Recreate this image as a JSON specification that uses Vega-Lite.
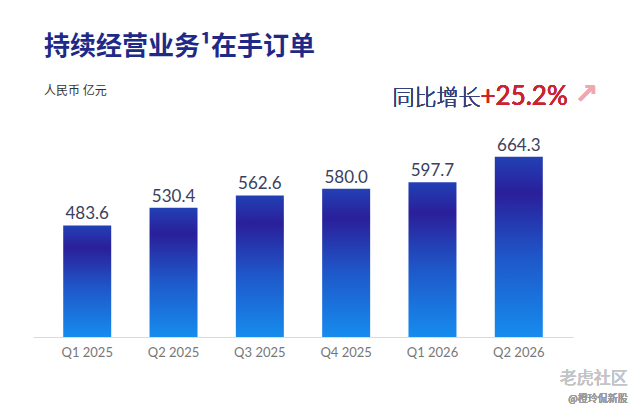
{
  "$schema": "https://vega.github.io/schema/vega-lite/v6.json",
  "autosize": "none",
  "width": 540,
  "height": 207,
  "padding": {"left": 33, "top": 130, "right": 67, "bottom": 74},
  "background": "#ffffff",
  "title": {
    "text": "持续经营业务¹在手订单",
    "subtitle": "人民币 亿元",
    "anchor": "start",
    "frame": "group",
    "dx": 11,
    "offset": -16,
    "font": "Noto Sans CJK SC",
    "fontSize": 26,
    "fontWeight": "bold",
    "color": "#1e2a86",
    "subtitleFont": "Noto Sans CJK SC",
    "subtitleFontSize": 12,
    "subtitleColor": "#333333",
    "subtitlePadding": 26
  },
  "config": {"view": {"stroke": null}},
  "data": {
    "values": [
      {"quarter": "Q1 2025", "value": 483.6},
      {"quarter": "Q2 2025", "value": 530.4},
      {"quarter": "Q3 2025", "value": 562.6},
      {"quarter": "Q4 2025", "value": 580.0},
      {"quarter": "Q1 2026", "value": 597.7},
      {"quarter": "Q2 2026", "value": 664.3}
    ]
  },
  "encoding": {
    "x": {
      "field": "quarter",
      "type": "nominal",
      "sort": null,
      "scale": {"paddingInner": 0.444, "paddingOuter": 0.35},
      "axis": {
        "title": null,
        "labelAngle": 0,
        "ticks": false,
        "domainColor": "#d5dbe8",
        "domainWidth": 1,
        "labelFont": "Lato",
        "labelFontSize": 13,
        "labelColor": "#777777",
        "labelPadding": 9
      }
    }
  },
  "layer": [
    {
      "mark": {
        "type": "bar",
        "color": {
          "gradient": "linear",
          "x1": 0, "y1": 0, "x2": 0, "y2": 1,
          "stops": [
            {"offset": 0, "color": "#2240b4"},
            {"offset": 0.2, "color": "#2a1f9a"},
            {"offset": 0.55, "color": "#1f56c8"},
            {"offset": 1, "color": "#168cee"}
          ]
        }
      },
      "encoding": {
        "y": {
          "field": "value",
          "type": "quantitative",
          "scale": {"domain": [190, 735], "zero": false, "nice": false},
          "axis": null
        },
        "y2": {"datum": 190}
      }
    },
    {
      "mark": {"type": "text", "baseline": "alphabetic", "dy": -6, "font": "Lato", "fontSize": 17, "color": "#3a4060"},
      "encoding": {
        "y": {"field": "value", "type": "quantitative"},
        "text": {"field": "value", "type": "quantitative", "format": ".1f"}
      }
    },
    {
      "mark": {"type": "text", "text": "同比增长", "align": "right", "baseline": "alphabetic", "dx": 48, "font": "Noto Sans CJK SC", "fontSize": 22, "fontWeight": 300, "color": "#34407a"},
      "encoding": {
        "x": {"datum": "Q1 2026"},
        "y": {"datum": 801}
      }
    },
    {
      "mark": {"type": "text", "text": "+25.2%", "align": "left", "baseline": "alphabetic", "dx": 48, "font": "Lato", "fontSize": 26, "color": "#c9242f"},
      "encoding": {
        "x": {"datum": "Q1 2026"},
        "y": {"datum": 801}
      }
    },
    {
      "mark": {"type": "text", "text": "↗", "align": "left", "baseline": "alphabetic", "dx": 56, "font": "DejaVu Sans", "fontSize": 28, "fontWeight": "bold", "color": "#f2a6b2"},
      "encoding": {
        "x": {"datum": "Q2 2026"},
        "y": {"datum": 806}
      }
    },
    {
      "mark": {"type": "text", "text": "老虎社区", "align": "right", "baseline": "alphabetic", "dx": 109, "font": "Noto Sans CJK SC", "fontSize": 17, "color": "#c4c4c4"},
      "encoding": {
        "x": {"datum": "Q2 2026"},
        "y": {"datum": 66}
      }
    },
    {
      "mark": {"type": "text", "text": "@橙玲侃新股", "align": "right", "baseline": "alphabetic", "dx": 109, "font": "Noto Sans CJK SC", "fontSize": 10, "color": "#9a9a9a"},
      "encoding": {
        "x": {"datum": "Q2 2026"},
        "y": {"datum": 19}
      }
    }
  ]
}
